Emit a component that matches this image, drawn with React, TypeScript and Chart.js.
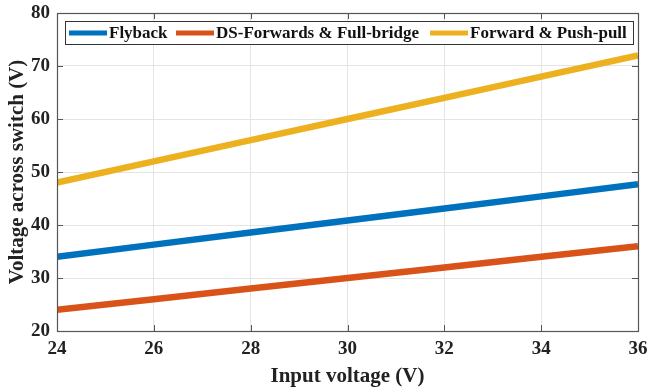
import React, { useEffect, useRef } from "react";
import { Chart, registerables } from "chart.js";

Chart.register(...registerables);

const inputVoltage = [24, 26, 28, 30, 32, 34, 36];
const flyback = [34, 36.3, 38.6, 40.85, 43.1, 45.4, 47.7];
const dsForward = [24, 26, 28, 30, 32, 34, 36];
const forwardPushPull = [48, 52, 56, 60, 64, 68, 72];
const seriesNames = ["Flyback", "DS-Forwards & Full-bridge", "Forward & Push-pull"];
const seriesColors = ["#0072BD", "#D95319", "#EDB120"];
const xTicks = [24, 26, 28, 30, 32, 34, 36];
const yTicks = [20, 30, 40, 50, 60, 70, 80];

const FONT = "'Liberation Serif', 'Times New Roman', serif";

const boxPlugin = {
  id: "boxAndLegend",
  afterDatasetsDraw(chart: any) {
    const { ctx, chartArea } = chart;
    const { left, right, top, bottom } = chartArea;
    const xs = chart.scales.x;
    const ys = chart.scales.y;
    ctx.save();
    ctx.strokeStyle = "#555555";
    ctx.lineWidth = 1;
    ctx.beginPath();
    xTicks.forEach((t) => {
      const px = Math.round(xs.getPixelForValue(t)) + 0.5;
      ctx.moveTo(px, bottom);
      ctx.lineTo(px, bottom - 6);
      ctx.moveTo(px, top);
      ctx.lineTo(px, top + 6);
    });
    yTicks.forEach((t) => {
      const py = Math.round(ys.getPixelForValue(t)) + 0.5;
      ctx.moveTo(left, py);
      ctx.lineTo(left + 6, py);
      ctx.moveTo(right, py);
      ctx.lineTo(right - 6, py);
    });
    ctx.stroke();
    ctx.strokeStyle = "#555555";
    ctx.lineWidth = 1.2;
    ctx.strokeRect(left + 0.5, top + 0.5, right - left, bottom - top);

    // legend
    const bx = left + 8;
    const by = top + 8;
    const bw = right - left - 13;
    const bh = 23;
    ctx.fillStyle = "#ffffff";
    ctx.fillRect(bx, by, bw, bh);
    ctx.strokeStyle = "#333333";
    ctx.lineWidth = 1;
    ctx.strokeRect(bx + 0.5, by + 0.5, bw, bh);
    ctx.font = `bold 17px ${FONT}`;
    ctx.textBaseline = "middle";
    ctx.textAlign = "left";
    const cy = by + bh / 2 + 0.5;
    const starts = [bx + 4, bx + 111, bx + 365];
    chart.data.datasets.forEach((ds: any, i: number) => {
      const x0 = starts[i];
      ctx.strokeStyle = ds.borderColor;
      ctx.lineWidth = 5;
      ctx.beginPath();
      ctx.moveTo(x0, cy);
      ctx.lineTo(x0 + 38, cy);
      ctx.stroke();
      ctx.fillStyle = "#111111";
      ctx.fillText(ds.label, x0 + 40, cy + 1);
    });
    ctx.restore();
  },
};

export default function App() {
  const ref = useRef<HTMLCanvasElement>(null);
  useEffect(() => {
    document.body.style.margin = "0";
    const canvas = ref.current!;
    const datasets = [flyback, dsForward, forwardPushPull].map((vals, i) => ({
      label: seriesNames[i],
      data: vals.map((v, j) => ({ x: inputVoltage[j], y: v })),
      borderColor: seriesColors[i],
      backgroundColor: seriesColors[i],
      borderWidth: 6.5,
      pointRadius: 0,
      tension: 0,
      borderCapStyle: "butt" as const,
    }));
    const chart = new Chart(canvas, {
      type: "line",
      data: { datasets },
      options: {
        animation: false,
        responsive: false,
        maintainAspectRatio: false,
        layout: { padding: { top: 13, right: 11, left: 0, bottom: 0 } },
        plugins: { legend: { display: false }, tooltip: { enabled: false } },
        scales: {
          x: {
            type: "linear",
            min: 24,
            max: 36,
            afterBuildTicks: (s: any) => {
              s.ticks = xTicks.map((v) => ({ value: v }));
            },
            afterFit: (s: any) => {
              s.height = 60;
              s.paddingLeft = 0;
              s.paddingRight = 0;
            },
            grid: { color: "#e4e4e4", drawTicks: false, lineWidth: 1 },
            border: { display: false },
            ticks: {
              color: "#222222",
              font: { family: FONT, size: 19, weight: "bold" },
              padding: 7,
              maxRotation: 0,
            },
            title: {
              display: true,
              text: "Input voltage (V)",
              color: "#222222",
              font: { family: FONT, size: 21, weight: "bold" },
              padding: { top: 2, bottom: 2 },
            },
          },
          y: {
            type: "linear",
            min: 20,
            max: 80,
            afterBuildTicks: (s: any) => {
              s.ticks = yTicks.map((v) => ({ value: v }));
            },
            afterFit: (s: any) => {
              s.width = 57;
              s.paddingTop = 0;
              s.paddingBottom = 0;
            },
            grid: { color: "#e4e4e4", drawTicks: false, lineWidth: 1 },
            border: { display: false },
            ticks: {
              color: "#222222",
              font: { family: FONT, size: 19, weight: "bold" },
              padding: 7,
            },
            title: {
              display: true,
              text: "Voltage across switch (V)",
              color: "#222222",
              font: { family: FONT, size: 21, weight: "bold" },
              padding: { top: 5, bottom: 2 },
            },
          },
        },
      },
      plugins: [boxPlugin],
    });
    return () => chart.destroy();
  }, []);
  return (
    <div style={{ width: 649, height: 391, background: "#fff" }}>
      <canvas ref={ref} width={649} height={391} style={{ display: "block" }} />
    </div>
  );
}
